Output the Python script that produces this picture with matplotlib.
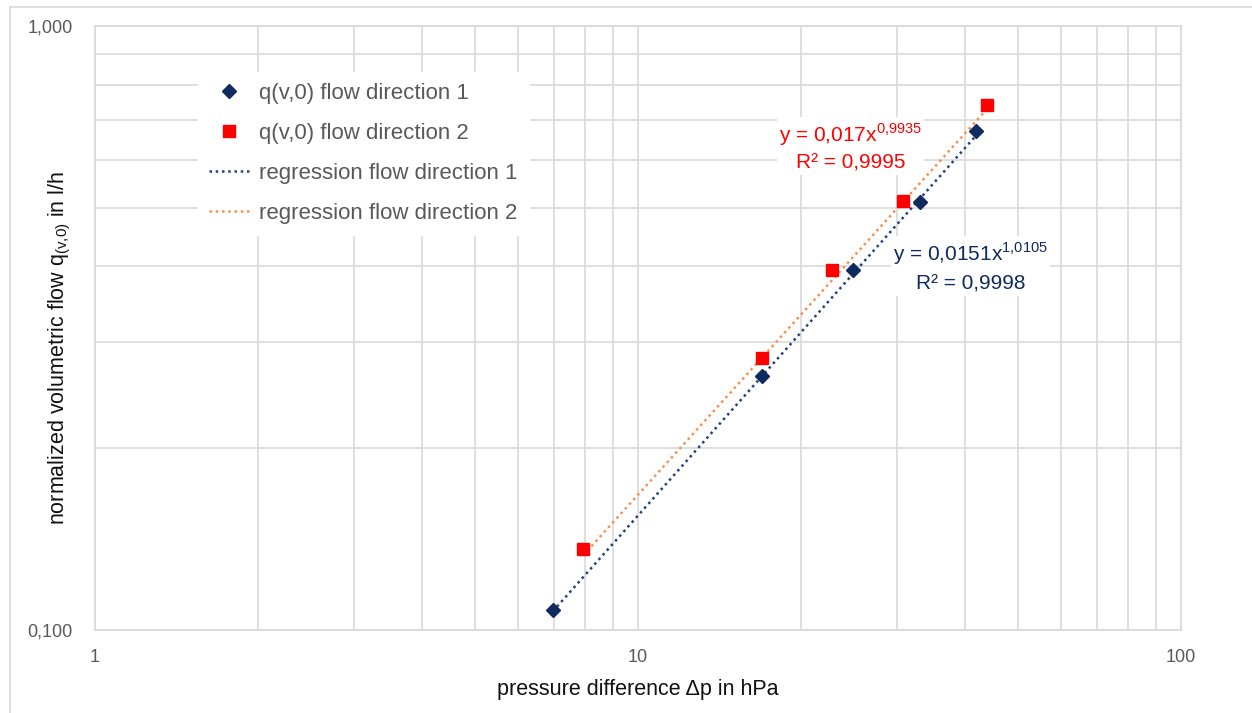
import matplotlib.pyplot as plt
from matplotlib.ticker import FixedLocator, NullFormatter, FuncFormatter
from matplotlib.lines import Line2D
import numpy as np

plt.rcParams['font.family'] = ['Liberation Sans', 'DejaVu Sans']

# measured points (pressure difference in hPa, flow in l/h)
dp_dir1 = [6.97, 16.9, 24.9, 33.0, 41.9]
q_dir1 = [0.108, 0.263, 0.394, 0.511, 0.670]
dp_dir2 = [7.92, 16.9, 22.8, 30.8, 43.9]
q_dir2 = [0.136, 0.282, 0.394, 0.513, 0.740]

# power-law trend lines y = a * x^b as reported
fit1_a, fit1_b, fit1_r2 = "0,0151", "1,0105", "0,9998"
fit2_a, fit2_b, fit2_r2 = "0,017", "0,9935", "0,9995"

x_ticks = [1, 10, 100]
y_ticks = [0.1, 1.0]

grid_col = '#d9d9d9'
tick_col = '#595959'
navy = '#0e2a5e'
red = '#ff0000'

fig = plt.figure(figsize=(12.52, 7.13), dpi=100)
ax = fig.add_axes([95 / 1252, 1 - 630 / 713, (1181 - 95) / 1252, (630 - 26) / 713])

# chart area border (Excel style)
fig.add_artist(Line2D([10 / 1252, 10 / 1252], [0, 1 - 7 / 713], color=grid_col, lw=1.2))
fig.add_artist(Line2D([10 / 1252, 1], [1 - 7 / 713, 1 - 7 / 713], color=grid_col, lw=1.2))


def num(s):
    return float(s.replace(',', '.'))


def trend(a, b, xs):
    xs = np.array([min(xs), max(xs)])
    return xs, num(a) * xs ** num(b)


tx1, ty1 = trend(fit1_a, fit1_b, dp_dir1)
tx2, ty2 = trend(fit2_a, fit2_b, dp_dir2)

ax.plot(tx1, ty1, ls=(0, (1, 1.5)), color='#23407e', lw=1.8, zorder=3, label='regression flow direction 1')
ax.plot(tx2, ty2, ls=(0, (1, 1.5)), color='#f4914f', lw=1.8, zorder=3, label='regression flow direction 2')
ax.plot(dp_dir1, q_dir1, 'D', color=navy, ms=7, zorder=4, label='q(v,0) flow direction 1')
ax.plot(dp_dir2, q_dir2, 's', color=red, ms=8.5, zorder=4, label='q(v,0) flow direction 2')

ax.set_xscale('log')
ax.set_yscale('log')
ax.set_xlim(1, 100)
ax.set_ylim(0.1, 1.0)

ax.xaxis.set_major_locator(FixedLocator(x_ticks))
ax.yaxis.set_major_locator(FixedLocator(y_ticks))
ax.xaxis.set_minor_locator(FixedLocator([m * d for d in (1, 10) for m in range(2, 10)]))
ax.yaxis.set_minor_locator(FixedLocator([m * 0.1 for m in range(2, 10)]))
ax.xaxis.set_minor_formatter(NullFormatter())
ax.yaxis.set_minor_formatter(NullFormatter())
ax.xaxis.set_major_formatter(FuncFormatter(lambda v, p: f"{v:g}"))
ax.yaxis.set_major_formatter(FuncFormatter(lambda v, p: f"{v:.3f}".replace('.', ',')))

ax.grid(True, which='both', color=grid_col, lw=1.2)
ax.set_axisbelow(True)
ax.tick_params(which='both', length=0, colors=tick_col, labelsize=13)
ax.tick_params(axis='x', pad=14)
ax.tick_params(axis='y', pad=16)
for s in ax.spines.values():
    s.set_color(grid_col)
    s.set_linewidth(1.2)

ax.set_xlabel('pressure difference Δp in hPa', fontsize=15.5, labelpad=9, color='#111111')
ax.set_ylabel(r'normalized volumetric flow q$_{\mathregular{(v{,}0)}}$ in l/h', fontsize=15.5,
              color='#111111')
ax.yaxis.set_label_coords(-0.0205, 0.467)

# legend, order as in original
handles, labels = ax.get_legend_handles_labels()
order = [2, 3, 0, 1]
leg = ax.legend([handles[i] for i in order], [labels[i] for i in order],
                loc='upper left', bbox_to_anchor=(0.0948, 0.924), fontsize=16,
                frameon=True, framealpha=1, edgecolor='white', facecolor='white',
                labelspacing=0.85, handlelength=1.8, handletextpad=0.45, borderpad=0.5,
                borderaxespad=0)
for t in leg.get_texts():
    t.set_color(tick_col)

# trend line equations
box = dict(facecolor='white', edgecolor='none', pad=1.5)


def eq_text(a, b, r2):
    return f"y = {a}x" + r"$^{\mathregular{" + b.replace(',', '{,}') + "}}$" + f"\nR² = {r2}"


ax.text(24.6, 0.63, eq_text(fit2_a, fit2_b, fit2_r2), color=red, fontsize=15,
        ha='center', va='center', linespacing=1.4, bbox=box, zorder=5)
ax.text(40.97, 0.399, eq_text(fit1_a, fit1_b, fit1_r2), color=navy, fontsize=15,
        ha='center', va='center', linespacing=1.5, bbox=box, zorder=5)

fig.savefig('out.png', dpi=100)
